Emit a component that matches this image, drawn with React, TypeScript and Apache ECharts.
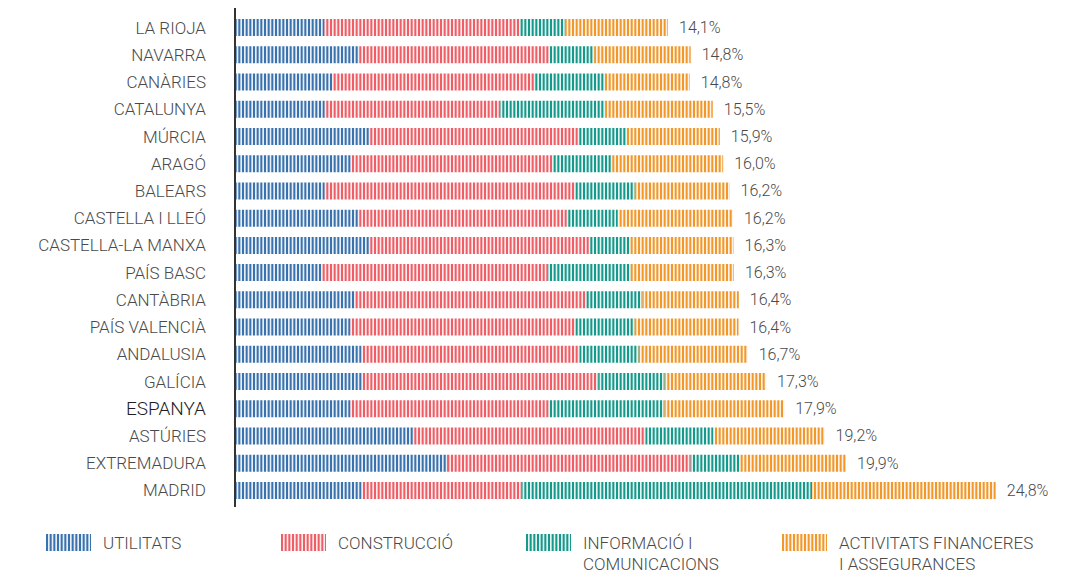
import React, { useEffect, useRef } from 'react';
import * as echarts from 'echarts';

const categories = ['LA RIOJA', 'NAVARRA', 'CANÀRIES', 'CATALUNYA', 'MÚRCIA', 'ARAGÓ', 'BALEARS', 'CASTELLA I LLEÓ', 'CASTELLA-LA MANXA', 'PAÍS BASC', 'CANTÀBRIA', 'PAÍS VALENCIÀ', 'ANDALUSIA', 'GALÍCIA', 'ESPANYA', 'ASTÚRIES', 'EXTREMADURA', 'MADRID'];
const utilitats = [2.89, 4.01, 3.14, 2.90, 4.37, 3.76, 2.90, 3.99, 4.37, 2.78, 3.87, 3.74, 4.10, 4.12, 3.74, 5.81, 6.92, 4.10];
const construccio = [6.36, 6.22, 6.56, 5.73, 6.80, 6.56, 8.19, 6.81, 7.17, 7.41, 7.56, 7.34, 7.11, 7.70, 6.47, 7.56, 7.92, 5.24];
const informacio = [1.48, 1.46, 2.33, 3.43, 1.58, 1.94, 1.92, 1.66, 1.31, 2.68, 1.83, 1.92, 1.93, 2.17, 3.77, 2.20, 1.58, 9.46];
const financeres = [3.37, 3.15, 2.78, 3.50, 3.04, 3.64, 3.10, 3.76, 3.39, 3.38, 3.15, 3.40, 3.56, 3.31, 3.91, 3.64, 3.49, 6.00];
const totals = [14.1, 14.8, 14.8, 15.5, 15.9, 16.0, 16.2, 16.2, 16.3, 16.3, 16.4, 16.4, 16.7, 17.3, 17.9, 19.2, 19.9, 24.8];

const seriesNames = ['UTILITATS', 'CONSTRUCCIÓ', 'INFORMACIÓ I', 'ACTIVITATS FINANCERES'];
const seriesColors = ['#3a72ae', '#ee5e66', '#16998a', '#f0982a'];
const legendSecondLines = ['', '', 'COMUNICACIONS', 'I ASSEGURANCES'];

function stripes(color: string) {
  const c = document.createElement('canvas');
  c.width = 11;
  c.height = 20;
  const ctx = c.getContext('2d')!;
  ctx.globalAlpha = 0.12;
  ctx.fillStyle = color;
  ctx.fillRect(0, 0, 11, 20);
  ctx.globalAlpha = 1;
  for (let i = 0; i < 3; i++) ctx.fillRect(i * 11 / 3, 0, 2, 20);
  return { image: c, repeat: 'repeat' } as any;
}

const fmt = (v: number) => v.toFixed(1).replace('.', ',') + '%';

export default function App() {
  const ref = useRef<HTMLDivElement>(null);
  useEffect(() => {
    document.body.style.margin = '0';
    const chart = echarts.init(ref.current!, undefined, { renderer: 'svg' });
    const values = [utilitats, construccio, informacio, financeres];
    const legendLefts = [46, 281, 526, 782];
    const font = 'Roboto';
    chart.setOption({
      animation: false,
      grid: { left: 236, top: 14, height: 490, width: 766 },
      xAxis: { type: 'value', min: 0, max: 25, show: false },
      yAxis: {
        type: 'category',
        data: categories,
        inverse: true,
        axisTick: { show: false },
        axisLine: { show: false },
        axisLabel: {
          margin: 30,
          color: '#4a4a4a',
          fontSize: 17,
          fontWeight: 300,
          fontFamily: font,
          formatter: (v: string) => (v === 'ESPANYA' ? `{b|${v}}` : v),
          rich: { b: { fontSize: 19, color: '#1e1e1e', fontFamily: font, fontWeight: 300 } },
        },
      },
      legend: seriesNames.map((n, i) => ({
        data: [n],
        left: legendLefts[i] - 5,
        top: 529,
        itemWidth: 45,
        itemHeight: 17,
        icon: 'rect',
        selectedMode: false,
        textStyle: { fontSize: 17, fontWeight: 300, color: '#4a4a4a', fontFamily: font, padding: [0, 0, 0, 7] },
      })),
      graphic: [
        {
          type: 'line',
          shape: { x1: 235, y1: 8, x2: 235, y2: 507 },
          style: { stroke: '#333', lineWidth: 2 },
          z: 10,
        },
        ...legendSecondLines
          .map((t, i) => ({ t, i }))
          .filter((o) => o.t)
          .map((o) => ({
            type: 'text',
            left: legendLefts[o.i] + 57,
            top: 555,
            style: { text: o.t, fill: '#4a4a4a', font: `300 17px ${font}` },
          })),
      ],
      series: values.map((arr, i) => ({
        name: seriesNames[i],
        type: 'bar',
        stack: 'total',
        barWidth: 17,
        data: arr,
        itemStyle: { color: stripes(seriesColors[i]) },
        label:
          i === 3
            ? {
                show: true,
                position: 'right',
                distance: 11,
                color: '#4a4a4a',
                fontSize: 16,
                fontWeight: 300,
                fontFamily: font,
                formatter: (p: any) => fmt(totals[p.dataIndex]),
              }
            : { show: false },
      })),
    });
    return () => chart.dispose();
  }, []);
  return <div ref={ref} style={{ width: 1075, height: 573 }} />;
}
